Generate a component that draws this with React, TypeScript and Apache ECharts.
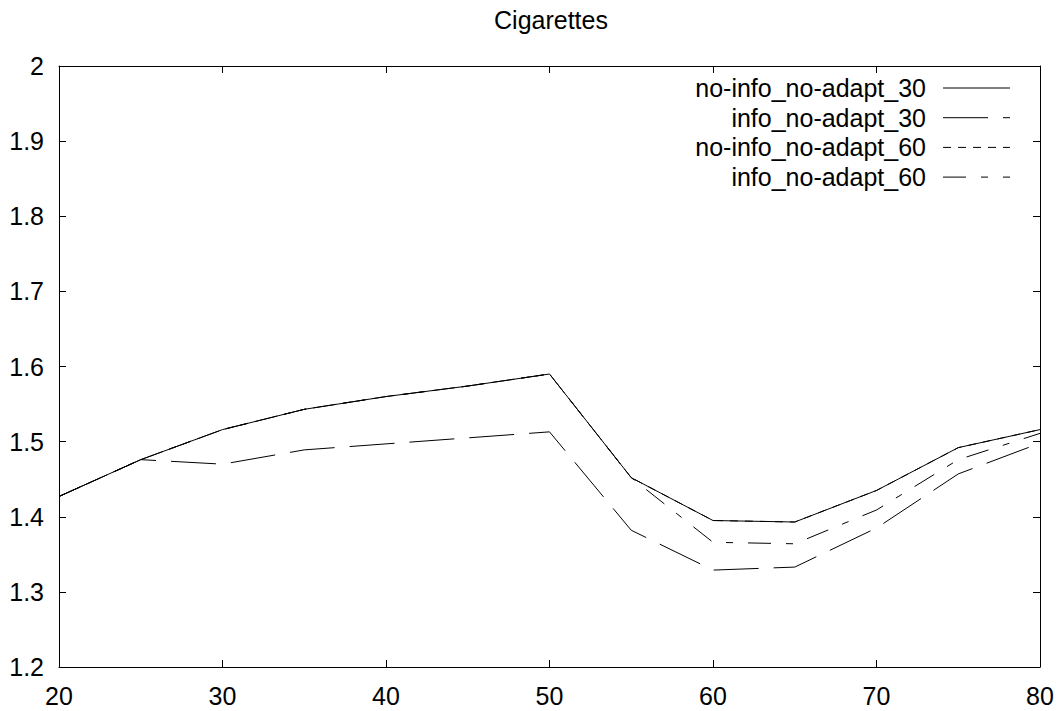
import React, { useEffect, useRef } from "react";
import * as echarts from "echarts";

// Tested window sizes (x) and measured ratio for each policy
const windowSizes = [20, 25, 30, 35, 40, 45, 50, 55, 60, 65, 70, 75, 80];
const noInfoNoAdapt30 = [1.427, 1.476, 1.516, 1.543, 1.560, 1.574, 1.590, 1.452, 1.395, 1.393, 1.435, 1.492, 1.516];
const infoNoAdapt30 = [1.427, 1.476, 1.470, 1.489, 1.497, 1.505, 1.513, 1.382, 1.329, 1.333, 1.385, 1.457, 1.498];
const noInfoNoAdapt60 = [1.427, 1.476, 1.516, 1.543, 1.560, 1.574, 1.590, 1.452, 1.395, 1.393, 1.435, 1.492, 1.516];
const infoNoAdapt60 = [1.427, 1.476, 1.516, 1.543, 1.560, 1.574, 1.590, 1.452, 1.366, 1.364, 1.409, 1.476, 1.511];

const seriesNames = ["no-info_no-adapt_30", "info_no-adapt_30", "no-info_no-adapt_60", "info_no-adapt_60"];
const seriesValues = [noInfoNoAdapt30, infoNoAdapt30, noInfoNoAdapt60, infoNoAdapt60];
const dashPatterns: (number[] | "solid")[] = ["solid", [45, 15], [8, 7], [23, 15, 7, 15]];

const titleText = "Cigarettes";
const FONT = "'Liberation Sans', Arial, sans-serif";

export default function App() {
  const ref = useRef<HTMLDivElement>(null);

  useEffect(() => {
    if (!ref.current) return;
    const chart = echarts.init(ref.current, undefined, { renderer: "svg" });

    const gridLeft = 59;
    const gridTop = 66;
    const gridRight = 18;
    const gridBottom = 44;

    const series = seriesNames.map((name, i) => ({
      name,
      type: "line" as const,
      data: windowSizes.map((x, j) => [x, seriesValues[i][j]]),
      symbol: "none",
      lineStyle: { color: "#000", width: 1, type: dashPatterns[i] },
      z: 2 + i,
    }));

    // Key: right-aligned names with line samples
    const keyTextRight = 926;
    const keyLineX1 = 943;
    const keyLineX2 = 1010;
    const keyRowY0 = 88;
    const keyRowStep = 29.7;
    const keyGraphics: any[] = [];
    seriesNames.forEach((name, i) => {
      const y = keyRowY0 + i * keyRowStep;
      keyGraphics.push({
        type: "text",
        x: keyTextRight,
        y,
        style: {
          text: name,
          fill: "#000",
          font: `25px ${FONT}`,
          textAlign: "right",
          textVerticalAlign: "middle",
        },
      });
      keyGraphics.push({
        type: "line",
        shape: { x1: keyLineX1, y1: y, x2: keyLineX2, y2: y },
        style: {
          stroke: "#000",
          lineWidth: 1,
          lineDash: dashPatterns[i] === "solid" ? null : dashPatterns[i],
        },
      });
    });

    const tickStyle = { show: true, inside: true, length: 7, lineStyle: { color: "#000", width: 1 } };
    const axisLine = { show: true, lineStyle: { color: "#000", width: 1 } };
    const labelStyle = { color: "#000", fontSize: 25, fontFamily: FONT };

    chart.setOption({
      animation: false,
      backgroundColor: "#fff",
      title: {
        text: titleText,
        left: 546,
        top: 2,
        textAlign: "center",
        textStyle: { color: "#000", fontSize: 25, fontWeight: "normal", fontFamily: FONT },
      },
      grid: { left: gridLeft, top: gridTop, right: gridRight, bottom: gridBottom, containLabel: false },
      xAxis: [
        {
          type: "value",
          min: 20,
          max: 80,
          interval: 10,
          position: "bottom",
          axisLine,
          axisTick: tickStyle,
          axisLabel: { ...labelStyle, margin: 16 },
          splitLine: { show: false },
        },
        {
          type: "value",
          min: 20,
          max: 80,
          interval: 10,
          position: "top",
          axisLine,
          axisTick: tickStyle,
          axisLabel: { show: false },
          splitLine: { show: false },
        },
      ],
      yAxis: [
        {
          type: "value",
          min: 1.2,
          max: 2,
          interval: 0.1,
          position: "left",
          axisLine,
          axisTick: tickStyle,
          axisLabel: { ...labelStyle, margin: 15, formatter: (v: number) => String(Math.round(v * 10) / 10) },
          splitLine: { show: false },
        },
        {
          type: "value",
          min: 1.2,
          max: 2,
          interval: 0.1,
          position: "right",
          axisLine,
          axisTick: tickStyle,
          axisLabel: { show: false },
          splitLine: { show: false },
        },
      ],
      series,
      graphic: keyGraphics,
    });

    return () => chart.dispose();
  }, []);

  return (
    <div
      ref={ref}
      style={{ position: "fixed", left: 0, top: 0, width: 1058, height: 711, background: "#fff" }}
    />
  );
}
